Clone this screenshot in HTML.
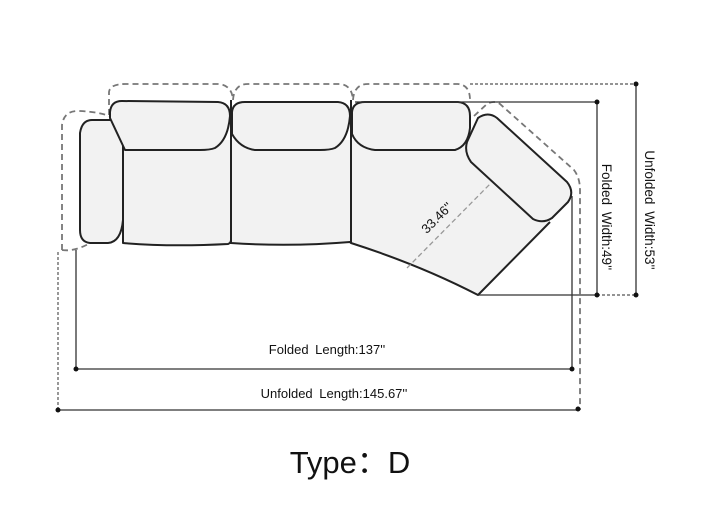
<!DOCTYPE html>
<html><head><meta charset="utf-8"><style>
html,body{margin:0;padding:0;background:#fff;}
svg{display:block;}
</style></head><body>
<svg width="720" height="515" viewBox="0 0 720 515" xmlns="http://www.w3.org/2000/svg" font-family="Liberation Sans, DejaVu Sans, sans-serif">
<!-- dashed unfolded outlines -->
<g fill="none" stroke="#777" stroke-width="1.8" stroke-dasharray="6,4">
<path d="M62,250 L62,125 Q64,110 80,111 Q100,112 112,117"/>
<path d="M62,250 Q75,252 92,242"/>
<path d="M109,115 L109,92 Q110,84 125,84 L218,84 Q232,85 233,100"/>
<path d="M233,100 Q234,84 248,84 L340,84 Q352,85 353,100"/>
<path d="M353,100 Q354,84 368,84 L458,84 Q470,85 470,100"/>
<path d="M474,116 L487,104 Q494,100 500,104 L574,170 Q580,178 580,190 L580,410"/>
</g>
<!-- sofa -->
<g fill="#f2f2f2" stroke="#222" stroke-width="2" stroke-linejoin="round">
<path d="M123,140 L351,140 L470,140 L470,150 L550,222 L478,295 Q420,265 351,243 Q290,247 231,243 Q170,247 123,243 Z" stroke="none"/>
<path d="M123,150 L123,243 Q170,247 228,244 Q231,243 231,240 L231,243 Q290,247 350,242 L351,243 Q420,265 478,295 L550,222" fill="none"/>
<line x1="231" y1="100" x2="231" y2="244"/>
<line x1="351" y1="100" x2="351" y2="243"/>
<!-- left arm -->
<path d="M92,120 L114,120 Q123,122 123,135 L123,220 Q121,242 108,243 L90,243 Q80,242 80,230 L80,133 Q82,120 92,120 Z"/>
<!-- backs -->
<path d="M110,112 Q111,101 122,101 L218,102 Q230,103 230,116 Q228,140 215,148 Q210,150 200,150 L125,150 L110,118 Z"/>
<path d="M232,112 Q233,102 245,102 L338,102 Q350,103 350,116 Q348,140 335,148 Q330,150 320,150 L255,150 Q240,148 232,134 Z"/>
<path d="M352,112 Q353,102 365,102 L458,102 Q470,103 470,116 L470,128 Q468,146 455,150 L375,150 Q358,148 352,134 Z"/>
<!-- right arm -->
<path d="M478,118 Q488,111 497,118 L567,182 Q575,192 568,202 L552,218 Q543,224 533,219 L471,162 Q464,152 467,142 Z"/>
</g>
<!-- 33.46 dim -->
<line x1="407" y1="268" x2="491" y2="183" stroke="#999" stroke-width="1.3" stroke-dasharray="5,3"/>
<text x="440" y="221" font-size="13" fill="#111" text-anchor="middle" transform="rotate(-45 440 221)">33.46''</text>
<!-- dimension lines -->
<g stroke="#333" stroke-width="1.3" fill="none">
<line x1="76" y1="250" x2="76" y2="369"/>
<line x1="76" y1="369" x2="572" y2="369"/>
<line x1="572" y1="196" x2="572" y2="369"/>
<line x1="58" y1="410" x2="578" y2="410"/>
<line x1="355" y1="102" x2="597" y2="102"/>
<line x1="597" y1="102" x2="597" y2="295"/>
<line x1="478" y1="295" x2="597" y2="295"/>
<line x1="636" y1="84" x2="636" y2="295"/>
</g>
<g stroke="#555" stroke-width="1.2" stroke-dasharray="3,2" fill="none">
<line x1="58" y1="252" x2="58" y2="410"/>
<line x1="470" y1="84" x2="636" y2="84"/>
<line x1="597" y1="295" x2="636" y2="295"/>
</g>
<g fill="#111">
<circle cx="76" cy="369" r="2.5"/><circle cx="572" cy="369" r="2.5"/>
<circle cx="58" cy="410" r="2.5"/><circle cx="578" cy="409" r="2.5"/>
<circle cx="597" cy="102" r="2.5"/><circle cx="597" cy="295" r="2.5"/>
<circle cx="636" cy="84" r="2.5"/><circle cx="636" cy="295" r="2.5"/>
</g>
<text x="327" y="354" font-size="13" fill="#111" text-anchor="middle" word-spacing="3">Folded Length:137''</text>
<text x="334" y="398" font-size="13" fill="#111" text-anchor="middle" word-spacing="3">Unfolded Length:145.67''</text>
<text x="0" y="0" font-size="13.5" fill="#111" text-anchor="middle" word-spacing="3" transform="translate(602,217) rotate(90)">Folded Width:49''</text>
<text x="0" y="0" font-size="13.5" fill="#111" text-anchor="middle" word-spacing="3" transform="translate(645,210) rotate(90)">Unfolded Width:53''</text>
<text x="350" y="473" font-size="31" fill="#111" text-anchor="middle" font-family="Liberation Sans, Noto Sans CJK SC, sans-serif">Type：D</text>
</svg>
</body></html>
